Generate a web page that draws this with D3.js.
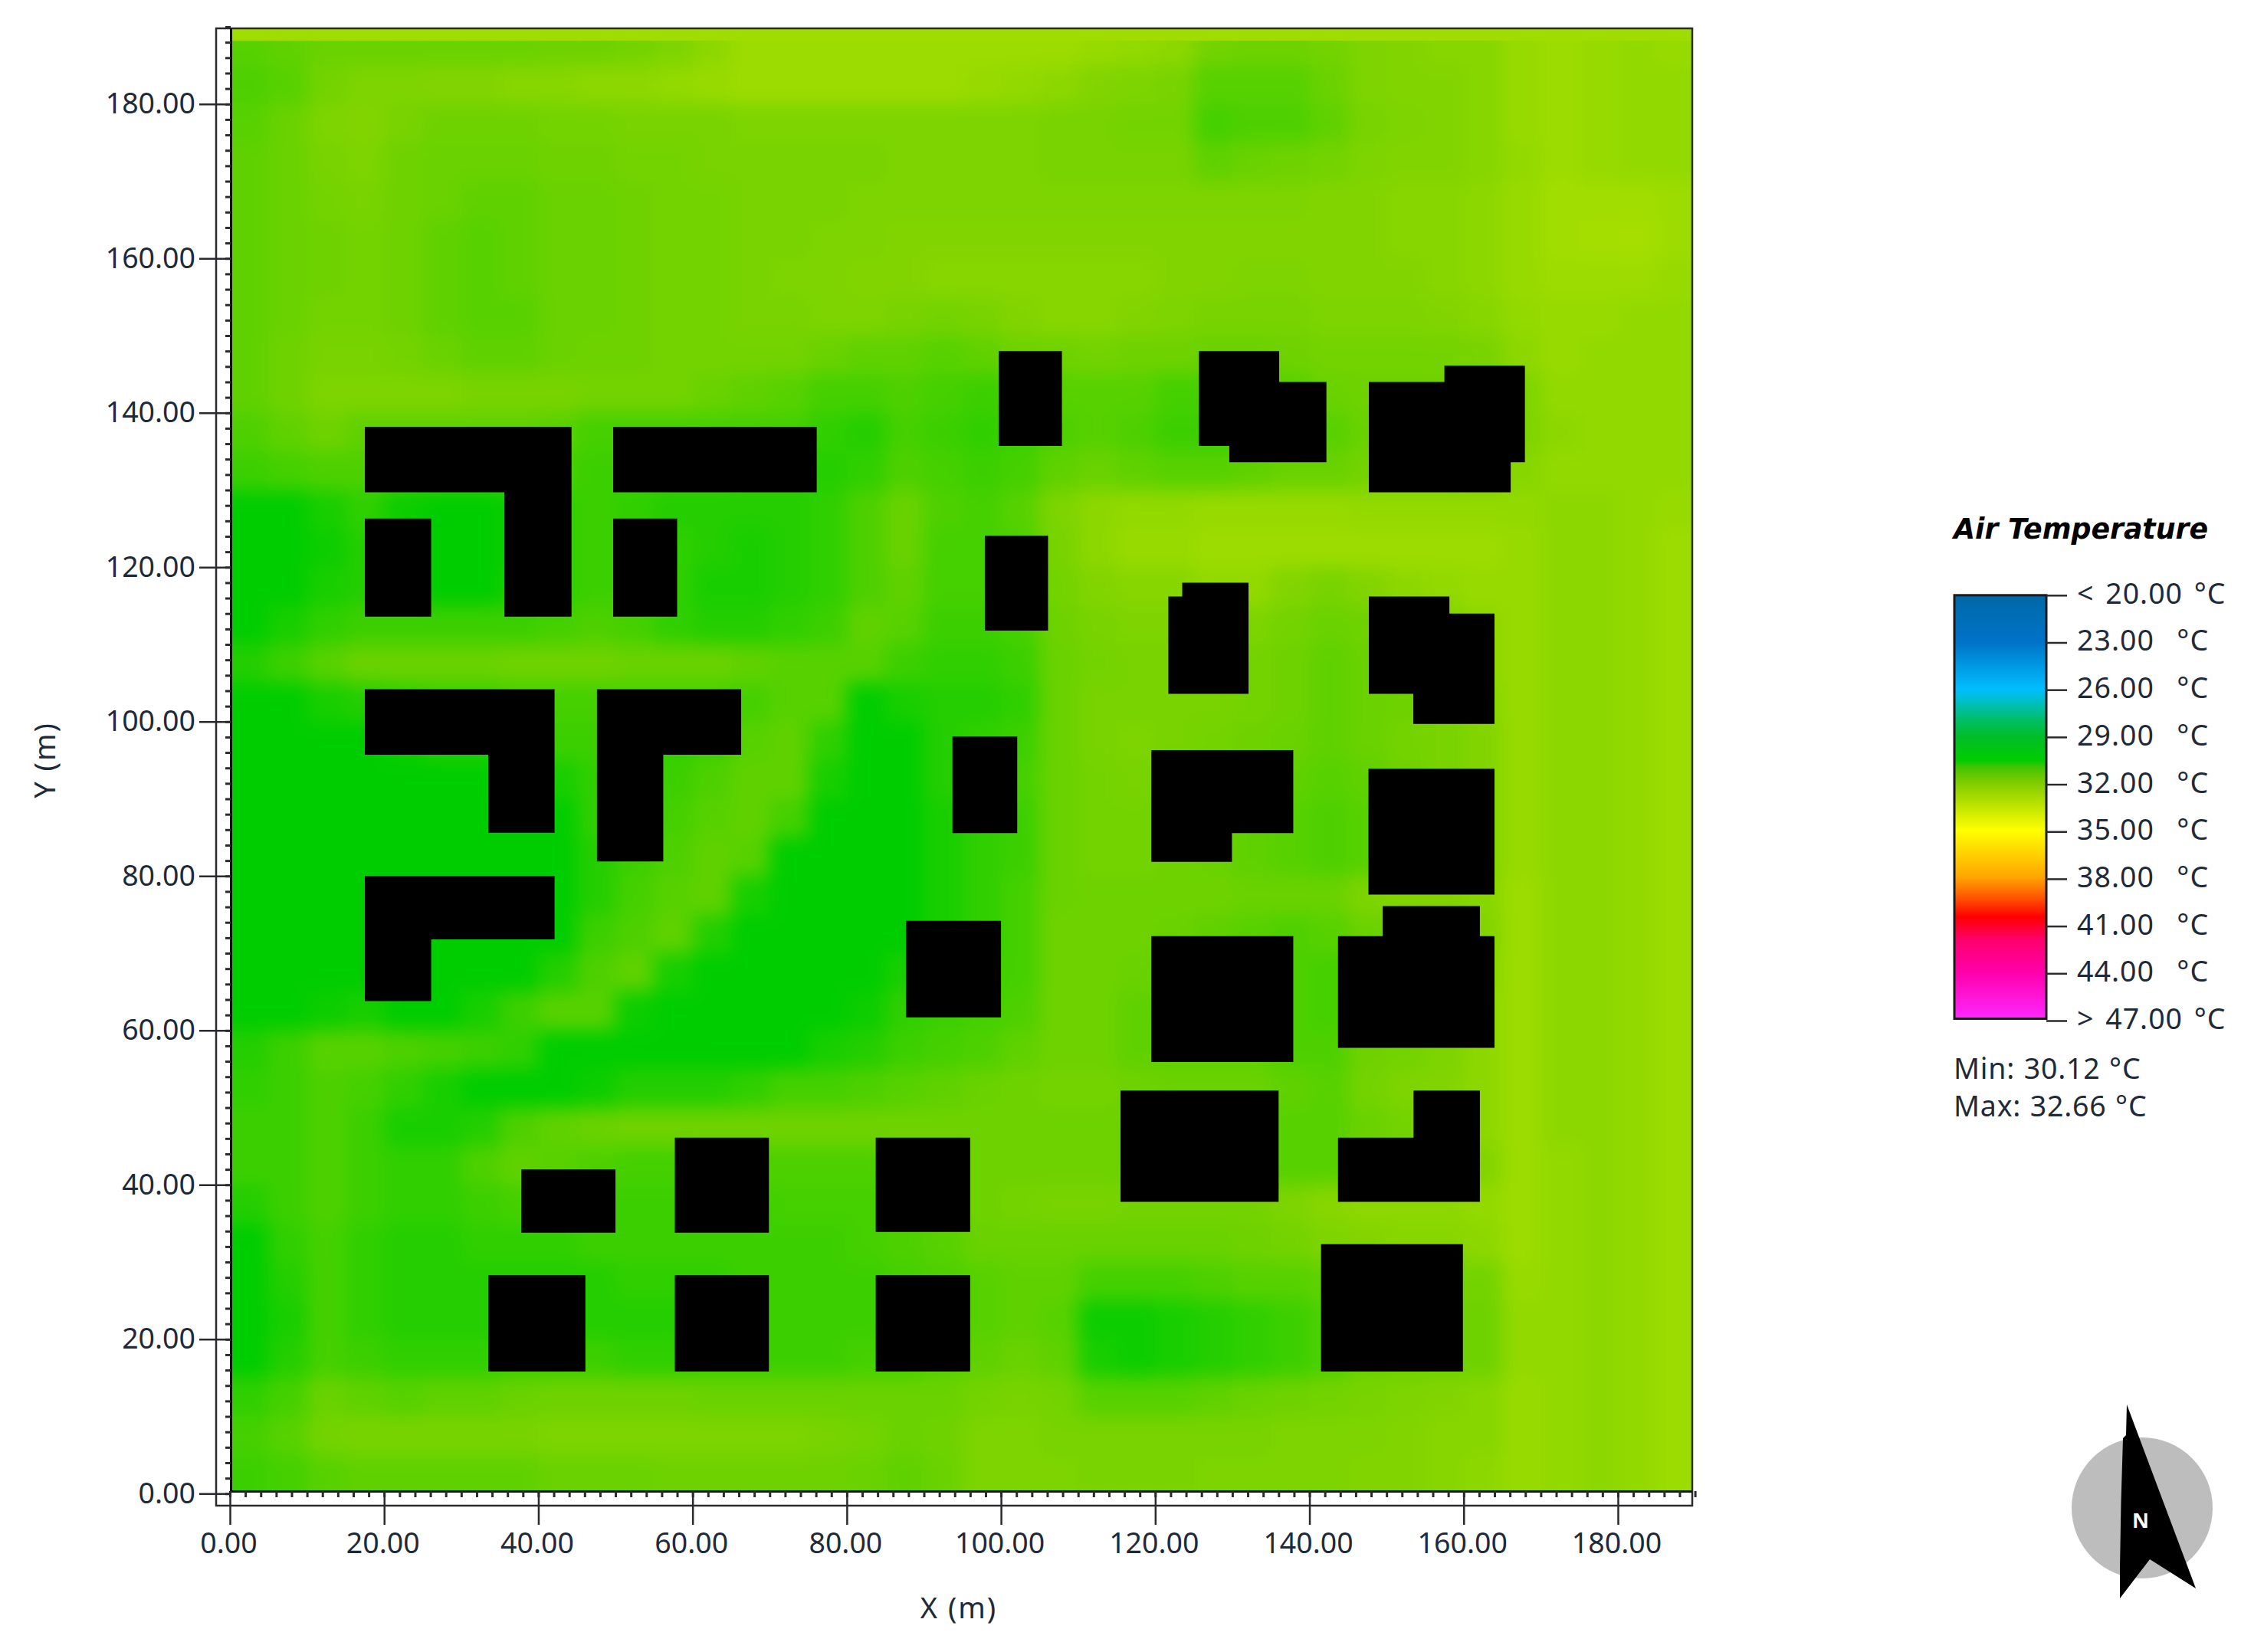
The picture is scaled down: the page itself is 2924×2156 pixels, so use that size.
<!DOCTYPE html>
<html><head><meta charset="utf-8">
<script src="https://cdn.jsdelivr.net/npm/d3@7"></script>
<style>html,body{margin:0;background:#fff}svg{display:block}text{font-family:"Noto Sans",sans-serif;fill:#1f2a38}</style>
</head><body><svg id="c" width="2924" height="2156"></svg>
<script>
// ---- data ----
const xTicks = d3.range(0, 181, 20);
const yTicks = d3.range(0, 181, 20);
const minorTicks = d3.range(0, 191, 2);
const cellSize = 5;                     // metres
const colCenters = d3.range(2.5, 190, 5);
const rowCenters = d3.range(187.5, 0, -5);
const topEdgeRow = colCenters.map(() => 32.55);
const tempRows = [
[31.3,31.4,31.5,31.5,31.5,31.5,31.5,31.5,31.6,31.6,31.7,31.9,32.2,32.5,32.5,32.5,32.5,32.5,32.5,32.5,32.5,32.5,32.4,32.3,32.2,31.7,31.6,31.6,31.7,31.9,32.0,32.1,32.1,32.4,32.5,32.4,32.3,32.4],
[31.2,31.3,31.7,31.9,31.9,32.0,32.0,32.1,32.1,32.2,32.2,32.3,32.4,32.5,32.5,32.5,32.5,32.5,32.5,32.4,32.3,32.2,32.0,31.9,31.8,31.3,31.3,31.3,31.5,31.9,32.0,32.0,32.1,32.4,32.5,32.4,32.3,32.3],
[31.3,31.5,31.9,32.0,31.8,31.6,31.6,31.6,31.7,31.7,31.8,31.8,31.8,31.9,31.9,31.9,31.9,31.9,31.9,31.9,31.9,31.8,31.8,31.7,31.7,31.1,31.2,31.2,31.4,31.8,31.9,32.0,32.1,32.4,32.5,32.4,32.3,32.3],
[31.4,31.5,31.8,31.9,31.6,31.5,31.5,31.5,31.6,31.6,31.7,31.7,31.8,31.8,31.8,31.8,31.8,31.9,31.9,31.9,31.9,31.8,31.8,31.8,31.8,31.4,31.5,31.6,31.7,31.9,32.0,32.0,32.1,32.3,32.5,32.4,32.3,32.3],
[31.4,31.5,31.7,31.8,31.6,31.5,31.4,31.4,31.5,31.5,31.6,31.7,31.7,31.8,31.8,31.8,31.9,31.9,31.9,31.9,31.9,31.9,31.9,31.9,31.9,31.9,31.9,31.9,32.0,32.0,32.1,32.1,32.2,32.4,32.6,32.6,32.6,32.5],
[31.4,31.5,31.6,31.7,31.6,31.4,31.3,31.4,31.5,31.5,31.6,31.7,31.7,31.8,31.8,31.9,31.9,32.0,32.0,32.0,32.0,32.0,32.0,32.0,32.0,32.0,32.0,32.0,32.0,32.0,32.1,32.1,32.2,32.4,32.6,32.65,32.66,32.5],
[31.4,31.5,31.6,31.7,31.6,31.4,31.3,31.4,31.5,31.5,31.6,31.7,31.7,31.8,31.9,31.9,32.0,32.0,32.1,32.1,32.1,32.1,32.1,32.1,32.0,32.0,31.9,31.9,32.0,32.0,32.0,32.1,32.2,32.4,32.5,32.5,32.5,32.4],
[31.4,31.5,31.7,31.7,31.6,31.4,31.3,31.3,31.5,31.5,31.6,31.7,31.7,31.8,31.8,31.9,31.9,31.8,31.7,31.8,32.0,32.1,32.1,32.0,31.9,31.8,31.8,31.8,31.9,31.9,31.9,32.0,32.1,32.3,32.4,32.4,32.3,32.3],
[31.4,31.6,31.8,31.8,31.7,31.5,31.4,31.4,31.5,31.6,31.6,31.7,31.7,31.7,31.7,31.5,31.4,31.4,31.3,31.4,31.6,31.6,31.7,31.6,31.6,31.5,31.5,31.6,31.7,31.7,31.7,31.7,31.8,32.2,32.4,32.3,32.3,32.3],
[31.4,31.6,31.9,31.9,31.9,31.9,31.8,31.8,31.8,31.7,31.7,31.7,31.5,31.4,31.3,31.1,31.1,31.2,31.1,31.0,31.1,31.3,31.3,31.3,31.1,31.1,31.2,31.3,31.5,31.6,31.6,31.6,31.7,31.9,32.3,32.3,32.3,32.3],
[31.2,31.4,31.6,31.4,31.4,31.4,31.4,31.4,31.3,31.1,31.1,31.1,31.1,31.1,31.1,30.9,30.8,31.1,31.0,30.9,31.0,31.2,31.3,31.2,31.0,31.0,31.1,31.2,31.3,31.5,31.5,31.5,31.7,31.9,32.2,32.3,32.3,32.3],
[31.0,31.1,31.2,31.2,31.1,31.1,31.1,31.1,31.1,31.0,31.0,31.0,31.0,30.9,30.9,30.8,30.9,31.2,31.1,31.0,31.1,31.4,31.5,31.4,31.3,31.3,31.4,31.5,31.5,31.7,31.7,31.7,31.8,32.1,32.3,32.3,32.3,32.3],
[30.4,30.5,30.7,30.9,30.6,30.4,30.4,30.6,30.9,31.0,30.9,30.8,30.8,30.8,30.8,30.9,31.2,31.5,31.2,31.1,31.3,31.9,32.2,32.3,32.3,32.4,32.4,32.4,32.4,32.3,32.3,32.3,32.3,32.3,32.2,32.2,32.3,32.4],
[30.3,30.4,30.6,30.8,30.8,30.4,30.3,30.6,30.9,31.0,31.0,30.9,30.8,30.7,30.8,30.9,31.2,31.5,31.1,31.1,31.2,31.8,32.2,32.4,32.4,32.5,32.5,32.5,32.5,32.5,32.5,32.5,32.5,32.4,32.2,32.2,32.3,32.5],
[30.3,30.5,30.7,30.8,30.8,30.5,30.4,30.7,30.9,31.0,31.0,30.9,30.7,30.7,30.8,30.9,31.2,31.4,31.1,31.1,31.2,31.7,32.0,32.1,32.1,32.3,32.3,32.0,31.8,32.0,32.2,32.3,32.4,32.4,32.2,32.2,32.3,32.5],
[30.5,30.7,30.9,31.0,31.0,31.0,31.0,31.0,31.1,31.2,31.1,30.9,30.8,30.8,30.9,31.0,31.4,31.3,31.0,31.0,31.1,31.6,31.8,31.9,31.9,32.0,31.9,31.7,31.5,31.6,31.8,32.0,32.2,32.4,32.2,32.2,32.3,32.5],
[30.8,31.0,31.3,31.5,31.5,31.5,31.5,31.6,31.6,31.6,31.5,31.5,31.5,31.4,31.3,31.3,31.3,31.0,30.9,30.9,31.0,31.5,31.7,31.8,31.8,31.9,31.7,31.6,31.4,31.5,31.7,31.9,32.2,32.4,32.2,32.2,32.3,32.5],
[30.3,30.4,30.7,30.8,30.9,31.0,31.0,31.1,31.1,31.1,31.1,31.1,31.1,31.1,31.3,31.3,30.4,30.7,30.8,30.8,30.9,31.5,31.8,31.8,31.8,31.8,31.7,31.6,31.4,31.5,31.6,31.8,32.1,32.4,32.2,32.2,32.3,32.5],
[30.3,30.3,30.4,30.5,30.6,30.8,30.8,30.9,31.0,31.0,30.9,30.9,31.0,31.3,31.4,30.9,30.4,30.5,30.8,30.9,31.0,31.5,31.8,31.9,31.8,31.7,31.6,31.5,31.4,31.5,31.7,31.8,32.0,32.4,32.2,32.2,32.3,32.5],
[30.3,30.3,30.3,30.3,30.3,30.4,30.5,30.6,30.7,30.9,31.0,31.0,31.2,31.4,31.4,30.7,30.3,30.3,30.8,31.0,31.1,31.5,31.7,31.8,31.6,31.5,31.5,31.4,31.3,31.4,31.6,31.8,32.0,32.4,32.2,32.2,32.3,32.5],
[30.3,30.3,30.3,30.3,30.3,30.3,30.3,30.4,30.5,30.9,31.0,31.1,31.3,31.4,31.1,30.3,30.3,30.3,30.7,30.9,31.0,31.5,31.7,31.7,31.6,31.5,31.4,31.3,31.2,31.3,31.6,31.8,32.0,32.4,32.2,32.2,32.3,32.5],
[30.3,30.3,30.3,30.3,30.3,30.3,30.3,30.3,30.3,30.8,31.0,31.2,31.4,31.3,30.5,30.3,30.3,30.4,30.7,30.9,31.0,31.5,31.7,31.7,31.6,31.5,31.4,31.3,31.2,31.3,31.6,31.8,32.0,32.4,32.2,32.2,32.3,32.5],
[30.3,30.3,30.3,30.3,30.3,30.3,30.3,30.3,30.4,30.8,31.1,31.3,31.4,30.7,30.3,30.3,30.3,30.3,30.7,30.9,31.1,31.5,31.6,31.6,31.6,31.6,31.5,31.5,31.5,31.9,32.0,32.0,32.1,32.5,32.2,32.2,32.3,32.5],
[30.3,30.3,30.3,30.3,30.3,30.3,30.3,30.3,30.5,31.0,31.2,31.4,30.8,30.3,30.3,30.3,30.3,30.4,30.7,30.9,31.1,31.6,31.6,31.6,31.5,31.4,31.3,31.2,31.3,31.5,31.6,31.7,32.0,32.5,32.2,32.2,32.3,32.5],
[30.3,30.3,30.3,30.3,30.3,30.3,30.4,30.5,30.8,31.2,31.4,30.7,30.3,30.3,30.3,30.3,30.4,30.7,30.9,31.0,31.1,31.6,31.6,31.5,31.4,31.4,31.3,31.2,31.1,31.3,31.5,31.7,32.1,32.5,32.2,32.2,32.3,32.5],
[30.3,30.4,30.6,30.7,30.4,30.5,30.7,31.0,31.3,31.3,30.6,30.3,30.3,30.3,30.3,30.4,30.6,30.9,31.0,31.1,31.2,31.6,31.6,31.4,31.3,31.3,31.3,31.2,31.1,31.4,31.6,31.8,32.2,32.5,32.2,32.2,32.3,32.5],
[30.8,31.0,31.3,31.3,31.2,31.1,31.0,30.9,30.5,30.3,30.3,30.3,30.3,30.3,30.5,30.7,30.8,31.0,31.1,31.2,31.4,31.6,31.6,31.4,31.4,31.4,31.4,31.2,31.2,31.6,31.7,31.9,32.2,32.5,32.2,32.2,32.3,32.5],
[30.9,31.0,31.2,31.1,30.9,30.7,30.5,30.3,30.3,30.6,30.8,30.8,30.8,30.9,31.1,31.1,31.2,31.3,31.4,31.5,31.6,31.7,31.7,31.6,31.5,31.5,31.5,31.4,31.3,31.7,31.9,32.0,32.2,32.5,32.2,32.2,32.3,32.5],
[31.0,31.0,31.2,31.0,30.7,30.7,30.8,31.2,31.4,31.5,31.6,31.6,31.6,31.6,31.6,31.6,31.6,31.6,31.6,31.6,31.6,31.6,31.6,31.5,31.5,31.5,31.4,31.3,31.3,31.5,31.7,31.9,32.2,32.5,32.2,32.2,32.3,32.5],
[31.0,31.0,31.2,31.0,30.9,30.9,31.2,31.4,31.3,31.2,31.1,31.1,31.2,31.2,31.2,31.2,31.2,31.4,31.5,31.6,31.6,31.6,31.6,31.5,31.4,31.4,31.4,31.3,31.3,31.5,31.6,31.7,32.0,32.5,32.3,32.2,32.3,32.5],
[30.8,31.0,31.2,31.0,30.9,30.9,31.0,31.1,31.0,31.0,31.0,31.0,31.0,31.0,31.1,31.1,31.1,31.2,31.5,31.6,31.7,31.8,31.8,31.7,31.7,31.7,31.7,31.9,32.1,32.2,32.2,32.2,32.3,32.5,32.3,32.2,32.3,32.5],
[30.5,30.9,31.1,30.9,30.8,30.8,30.9,30.9,30.9,31.0,31.0,31.0,31.0,31.0,31.0,31.0,31.1,31.2,31.3,31.5,31.5,31.5,31.5,31.5,31.5,31.5,31.6,31.7,31.9,32.0,32.1,32.1,32.2,32.5,32.3,32.2,32.3,32.5],
[30.4,30.8,31.1,30.9,30.8,30.8,30.8,30.8,30.8,30.8,30.9,30.9,30.9,31.0,31.0,31.0,31.0,31.1,31.2,31.3,31.4,31.4,31.1,31.1,31.1,31.2,31.3,31.3,31.4,31.7,31.8,31.7,31.7,32.4,32.3,32.2,32.3,32.5],
[30.4,30.7,31.1,30.9,30.8,30.8,30.8,30.8,30.8,30.8,30.8,30.8,30.9,31.0,31.0,31.0,31.0,31.1,31.2,31.3,31.4,31.3,30.6,30.6,30.7,30.8,30.9,31.0,31.2,31.5,31.6,31.6,31.6,32.3,32.3,32.2,32.3,32.5],
[30.5,30.8,31.1,31.0,30.9,30.9,30.9,31.0,31.0,31.0,30.9,30.9,31.0,31.0,31.0,31.0,31.1,31.1,31.3,31.4,31.5,31.4,30.7,30.6,30.7,30.8,30.9,31.0,31.2,31.5,31.6,31.6,31.6,32.3,32.3,32.2,32.3,32.5],
[30.9,31.1,31.5,31.4,31.3,31.4,31.4,31.5,31.6,31.6,31.6,31.6,31.5,31.5,31.5,31.5,31.5,31.5,31.5,31.7,31.8,31.7,31.3,31.3,31.3,31.4,31.5,31.6,31.7,31.8,31.9,32.0,32.1,32.4,32.3,32.2,32.3,32.5],
[31.1,31.3,31.7,31.8,31.8,31.8,31.8,31.8,31.9,31.9,31.9,31.9,31.9,31.9,31.9,31.8,31.7,31.5,31.6,31.9,31.9,31.8,31.8,31.8,31.8,31.8,31.8,31.9,31.9,31.9,32.0,32.1,32.1,32.4,32.3,32.2,32.3,32.5],
[31.0,31.1,31.3,31.4,31.4,31.4,31.4,31.4,31.5,31.5,31.5,31.6,31.6,31.6,31.6,31.6,31.5,31.4,31.5,31.9,31.9,31.9,31.8,31.8,31.8,31.9,31.9,31.9,31.9,32.0,32.0,32.1,32.2,32.4,32.3,32.2,32.3,32.5]
];
// building footprints, metres
const buildings = [
 [[17.5,138.2],[44.3,138.2],[44.3,113.6],[35.6,113.6],[35.6,129.7],[17.5,129.7]],
 [[49.7,138.2],[76.1,138.2],[76.1,129.7],[49.7,129.7]],
 [[17.5,126.3],[26.1,126.3],[26.1,113.6],[17.5,113.6]],
 [[49.7,126.3],[58,126.3],[58,113.6],[49.7,113.6]],
 [[17.5,104.2],[42.1,104.2],[42.1,85.6],[33.5,85.6],[33.5,95.7],[17.5,95.7]],
 [[47.6,104.2],[66.3,104.2],[66.3,95.7],[56.2,95.7],[56.2,81.9],[47.6,81.9]],
 [[17.5,80],[42.1,80],[42.1,71.8],[26.1,71.8],[26.1,63.8],[17.5,63.8]],
 [[37.8,42],[50,42],[50,33.8],[37.8,33.8]],
 [[57.7,46.1],[69.9,46.1],[69.9,33.8],[57.7,33.8]],
 [[83.75,46.1],[96,46.1],[96,33.9],[83.75,33.9]],
 [[33.5,28.3],[46.1,28.3],[46.1,15.8],[33.5,15.8]],
 [[57.7,28.3],[69.9,28.3],[69.9,15.8],[57.7,15.8]],
 [[83.75,28.3],[96,28.3],[96,15.8],[83.75,15.8]],
 [[87.7,74.2],[100,74.2],[100,61.7],[87.7,61.7]],
 [[119.5,72.2],[137.9,72.2],[137.9,55.9],[119.5,55.9]],
 [[143.7,72.2],[149.5,72.2],[149.5,76.1],[162.1,76.1],[162.1,72.2],[164,72.2],[164,57.75],[143.7,57.75]],
 [[115.5,52.2],[136,52.2],[136,37.8],[115.5,37.8]],
 [[153.5,52.2],[162.1,52.2],[162.1,37.8],[143.7,37.8],[143.7,46.1],[153.5,46.1]],
 [[141.5,32.3],[159.9,32.3],[159.9,15.8],[141.5,15.8]],
 [[119.5,96.3],[137.9,96.3],[137.9,85.56],[129.95,85.56],[129.95,81.85],[119.5,81.85]],
 [[147.65,93.9],[164,93.9],[164,77.6],[147.65,77.6]],
 [[93.7,98.1],[102.1,98.1],[102.1,85.56],[93.7,85.56]],
 [[99.7,148],[107.9,148],[107.9,135.7],[99.7,135.7]],
 [[125.67,148],[136.07,148],[136.07,144],[142.2,144],[142.2,133.6],[129.6,133.6],[129.6,135.7],[125.67,135.7]],
 [[147.7,144],[157.5,144],[157.5,146.1],[167.94,146.1],[167.94,133.6],[166.1,133.6],[166.1,129.7],[147.7,129.7]],
 [[97.9,124.1],[106.1,124.1],[106.1,111.8],[97.9,111.8]],
 [[123.5,118],[132.1,118],[132.1,103.6],[121.7,103.6],[121.7,116.2],[123.5,116.2]],
 [[147.7,116.2],[158.15,116.2],[158.15,114],[164,114],[164,99.7],[153.47,99.7],[153.47,103.6],[147.7,103.6]]
];
const legendValues = [20,23,26,29,32,35,38,41,44,47];
const legendLabels = ["< 20.00 °C","23.00\u00A0\u00A0°C","26.00\u00A0\u00A0°C","29.00\u00A0\u00A0°C","32.00\u00A0\u00A0°C","35.00\u00A0\u00A0°C","38.00\u00A0\u00A0°C","41.00\u00A0\u00A0°C","44.00\u00A0\u00A0°C","> 47.00 °C"];
const mapTemps = [30.5,31,31.5,32,32.66,35];
const mapHexes = ["#00cd00","#3ccf00","#69d200","#82d400","#a5de00","#ffff00"];
const legendTemps = [20,23,26,27,28,29,30.5,31,32,35,38,39.5,40.5,42,44,47];
const legendHexes = ["#0068a8","#0073c8","#00beff","#00beb4","#00be64","#00be28","#00cd00","#46c400","#82cc00","#ffff00","#ffa500","#ff4600","#ff0000","#ff006e","#ff00aa","#ff28ff"];
const statLines = ["Min: 30.12 °C","Max: 32.66 °C"];

tempRows.forEach((r,i)=>{ if(r.length!==colCenters.length) throw new Error("row "+i+" has "+r.length); });
if(tempRows.length!==rowCenters.length) throw new Error("rows "+tempRows.length);

// ---- scales ----
const x = d3.scaleLinear([0,190],[300,2211.6]);
const y = d3.scaleLinear([0,190],[1949.3,35]);
const color = d3.scaleLinear(mapTemps,mapHexes).clamp(true);
const legendColor = d3.scaleLinear(legendTemps,legendHexes).clamp(true);
const plot = {l:301,r:2208,t:37,b:1946};
const svg = d3.select("#c");
const defs = svg.append("defs");
defs.append("clipPath").attr("id","plotClip").append("rect")
  .attr("x",plot.l).attr("y",plot.t).attr("width",plot.r-plot.l).attr("height",plot.b-plot.t);
defs.append("filter").attr("id","soft").attr("filterUnits","userSpaceOnUse")
  .attr("x",0).attr("y",0).attr("width",2924).attr("height",2156)
  .attr("color-interpolation-filters","sRGB")
  .append("feGaussianBlur").attr("stdDeviation",12);

// ---- heat field ----
const plotG = svg.append("g").attr("clip-path","url(#plotClip)");
const cells = tempRows.flatMap((r,ri)=>r.map((v,ci)=>({v,ci,ri})));
plotG.append("g").attr("filter","url(#soft)").attr("shape-rendering","crispEdges")
  .selectAll("rect").data(cells).join("rect")
  .attr("x",d=>x(d.ci===0?-20:colCenters[d.ci]-cellSize/2))
  .attr("width",d=>{const a=d.ci===0?-20:colCenters[d.ci]-cellSize/2;const b=d.ci===colCenters.length-1?210:colCenters[d.ci]+cellSize/2;return x(b)-x(a)+1;})
  .attr("y",d=>y(d.ri===0?210:rowCenters[d.ri]+cellSize/2))
  .attr("height",d=>{const a=d.ri===0?210:rowCenters[d.ri]+cellSize/2;const b=d.ri===rowCenters.length-1?-20:rowCenters[d.ri]-cellSize/2;return y(b)-y(a)+1;})
  .attr("fill",d=>color(d.v));
plotG.append("g").selectAll("rect").data(topEdgeRow).join("rect")
  .attr("x",(d,i)=>x(colCenters[i]-cellSize/2)-(i===0?5:0)).attr("width",x(cellSize)-x(0)+6)
  .attr("y",plot.t).attr("height",y(188.2)-plot.t).attr("fill",d=>color(d));
const line = d3.line().x(d=>x(d[0])).y(d=>y(d[1])).curve(d3.curveLinearClosed);
plotG.append("g").selectAll("path").data(buildings).join("path").attr("d",line).attr("fill","#000");

// ---- frame and axes ----
const ink="#2b2b2f";
svg.append("rect").attr("x",282).attr("y",37).attr("width",2208-282).attr("height",1965-37)
  .attr("fill","none").attr("stroke",ink).attr("stroke-width",2.5);
svg.append("line").attr("x1",301.5).attr("x2",301.5).attr("y1",37).attr("y2",1947).attr("stroke","#111").attr("stroke-width",3);
svg.append("line").attr("x1",301).attr("x2",2208).attr("y1",1946.5).attr("y2",1946.5).attr("stroke","#111").attr("stroke-width",3);
function style(g,w){g.select(".domain").remove();g.selectAll("line").attr("stroke",ink).attr("stroke-width",w);g.selectAll("text").style("font-size","37.5px").attr("fill","#1f2a38");}
svg.append("g").attr("transform","translate(0,1946)")
  .call(d3.axisBottom(x).tickValues(minorTicks).tickSize(8).tickFormat(""))
  .call(style,3);
svg.append("g").attr("transform","translate(301,0)")
  .call(d3.axisLeft(y).tickValues(minorTicks).tickSize(7).tickFormat(""))
  .call(style,3);
svg.append("g").attr("transform","translate(0,1946)")
  .call(d3.axisBottom(x).tickValues(xTicks).tickSize(44).tickPadding(10).tickFormat(d3.format(".2f")))
  .call(style,2.5).call(g=>g.selectAll("text").attr("dx",-2));
svg.append("g").attr("transform","translate(301,0)")
  .call(d3.axisLeft(y).tickValues(yTicks).tickSize(41).tickPadding(5).tickFormat(d3.format(".2f")))
  .call(style,2.5);
svg.append("text").attr("x",1251).attr("y",2112).attr("text-anchor","middle").style("font-size","38px").attr("letter-spacing",2).text("X (m)");
svg.append("text").attr("transform","translate(72,992) rotate(-90)").attr("text-anchor","middle").style("font-size","38px").attr("letter-spacing",2).text("Y (m)");

// ---- legend ----
const ly = d3.scaleLinear([20,47],[776.8,1332]);
const grad = defs.append("linearGradient").attr("id","lg").attr("x1",0).attr("x2",0).attr("y1",0).attr("y2",1);
grad.selectAll("stop").data(legendTemps).join("stop")
  .attr("offset",d=>(d-20)/27).attr("stop-color",d=>legendColor(d));
svg.append("rect").attr("x",2550).attr("y",776.8).attr("width",120).attr("height",1329.5-776.8)
  .attr("fill","url(#lg)").attr("stroke","#1a1a1a").attr("stroke-width",3);
svg.append("g").attr("transform","translate(2670,0)")
  .call(d3.axisRight(ly).tickValues(legendValues).tickSize(27).tickPadding(13).tickFormat((d,i)=>legendLabels[i]))
  .call(style,2.5)
  .call(g=>g.selectAll("text").attr("dy","0.28em").attr("letter-spacing",1).attr("word-spacing",4));
svg.append("text").attr("x",2549).attr("y",703).attr("textLength",332).attr("lengthAdjust","spacingAndGlyphs")
  .style("font-family","'DejaVu Sans'").style("font-weight","bold").style("font-style","italic").style("font-size","37px").style("fill","#000").text("Air Temperature");
svg.append("g").selectAll("text").data(statLines).join("text")
  .attr("x",2549).attr("y",(d,i)=>1408+i*48.5).style("font-size","37.5px").attr("letter-spacing",0.8).attr("word-spacing",1).text(d=>d);

// ---- north arrow ----
svg.append("circle").attr("cx",2795).attr("cy",1968).attr("r",92).attr("fill","#bdbdbd");
const arrowPts=[[2775,1833],[2865,2073],[2805,2035],[2766,2086],[2766,2047],[2767.5,1960],[2770,1877],[2774,1873]];
svg.append("path").attr("d",d3.line()(arrowPts)+"Z").attr("fill","#000");
svg.append("text").attr("x",2793).attr("y",1994).attr("text-anchor","middle")
  .style("font-size","27px").style("font-weight","bold").style("fill","#fff").text("N");
</script></body></html>
